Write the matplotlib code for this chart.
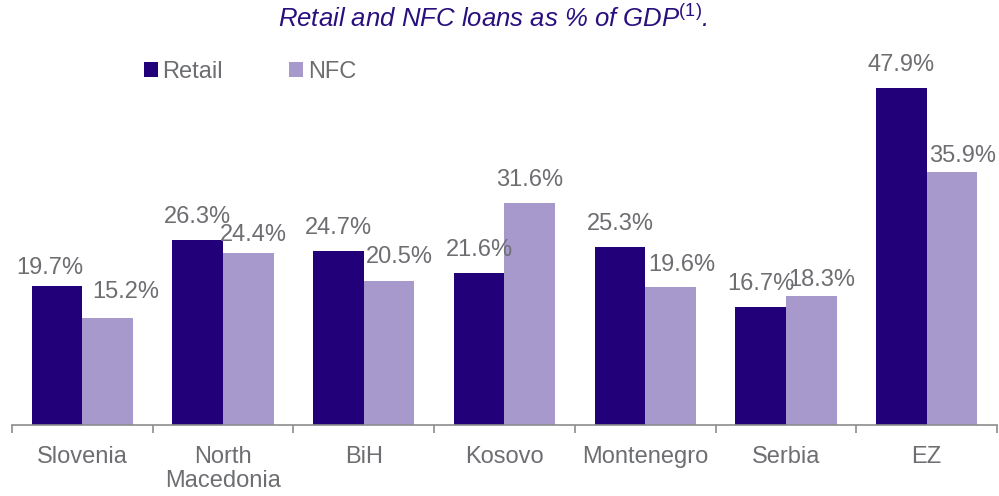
import numpy as np
import matplotlib.pyplot as plt

plt.rcParams['font.family'] = ['Liberation Sans', 'DejaVu Sans']
plt.rcParams['mathtext.fontset'] = 'custom'
plt.rcParams['mathtext.rm'] = 'Liberation Sans'

# dados
countries = ['Slovenia', 'North\nMacedonia', 'BiH', 'Kosovo', 'Montenegro', 'Serbia', 'EZ']
retail = [19.7, 26.3, 24.7, 21.6, 25.3, 16.7, 47.9]
nfc = [15.2, 24.4, 20.5, 31.6, 19.6, 18.3, 35.9]

# deslocamento dos rótulos (pixels), como no original
retail_off = [(-7, 12), (0, 17), (0, 17), (0, 17), (0, 17), (0, 17), (0, 17)]
nfc_off = [(18, 20), (5, 12), (10, 18), (0, 17), (11, 16), (10, 10), (11, 10)]

c_retail = '#22007A'
c_nfc = '#A899CC'
c_text = '#6D6E71'

fig = plt.figure(figsize=(9.99, 4.96), dpi=100)
ax = fig.add_axes([12/999, 71/496, 985/999, 366/496])

x = np.arange(len(countries))
w = 0.36
b1 = ax.bar(x - w/2, retail, w, color=c_retail, label='Retail')
b2 = ax.bar(x + w/2, nfc, w, color=c_nfc, label='NFC')

for bars, vals, offs in [(b1, retail, retail_off), (b2, nfc, nfc_off)]:
    for b, v, o in zip(bars, vals, offs):
        ax.annotate(f'{v:.1f}%', (b.get_x() + b.get_width()/2, v), xytext=o,
                    textcoords='offset pixels', ha='center', va='baseline',
                    fontsize=17, color=c_text)

ax.set_xlim(-0.5, len(countries) - 0.5)
ax.set_ylim(0, 52)
ax.set_yticks([])
ax.set_xticks(np.arange(len(countries) + 1) - 0.5)
ax.set_xticklabels([])
ax.set_xticks(x, minor=True)
ax.set_xticklabels(countries, minor=True, fontsize=17, color=c_text, linespacing=1.15)
ax.tick_params(axis='x', which='major', length=6, color='#8C8C8C', width=1.2)
ax.tick_params(axis='x', which='minor', length=0, pad=15)
for s in ['top', 'right', 'left']:
    ax.spines[s].set_visible(False)
ax.spines['bottom'].set_color('#8C8C8C')
ax.spines['bottom'].set_linewidth(1.2)

leg = ax.legend(loc='upper left', bbox_to_anchor=(0.124, 1.02), ncol=2, frameon=False,
                fontsize=17, handlelength=0.6, handleheight=0.6, handletextpad=0.2,
                columnspacing=2.8, borderaxespad=0)
for t in leg.get_texts():
    t.set_color(c_text)

fig.text(0.493, 0.963, r'Retail and NFC loans as % of GDP$^{\mathrm{(1)}}$.', ha='center', va='center',
         fontsize=18.5, style='italic', color='#2A0F7F')

fig.savefig('out.png')
